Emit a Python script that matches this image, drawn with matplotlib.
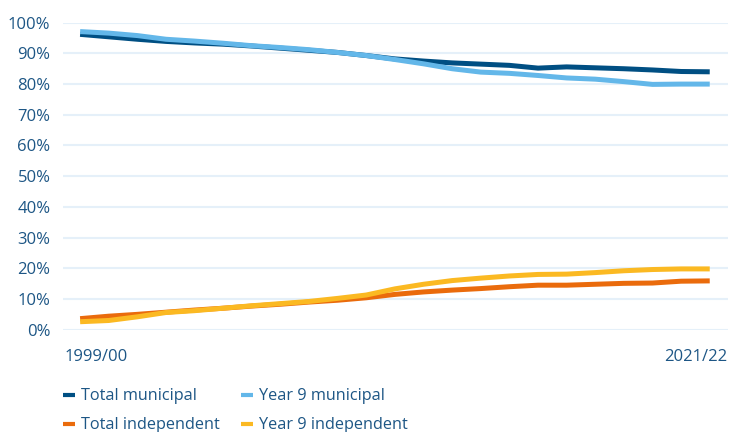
import matplotlib.pyplot as plt
from matplotlib.ticker import PercentFormatter

plt.rcParams['font.family'] = ['Open Sans', 'DejaVu Sans']

years = ['1999/00', '2000/01', '2001/02', '2002/03', '2003/04', '2004/05',
         '2005/06', '2006/07', '2007/08', '2008/09', '2009/10', '2010/11',
         '2011/12', '2012/13', '2013/14', '2014/15', '2015/16', '2016/17',
         '2017/18', '2018/19', '2019/20', '2020/21', '2021/22']

total_municipal = [96.2, 95.4, 94.6, 93.9, 93.4, 93.0, 92.4, 91.7, 91.0, 90.3,
                   89.3, 88.2, 87.5, 86.9, 86.5, 86.1, 85.2, 85.6, 85.3, 85.0,
                   84.6, 84.1, 84.0]
year9_municipal = [97.1, 96.6, 95.8, 94.6, 94.0, 93.3, 92.5, 91.9, 91.2, 90.3,
                   89.3, 88.0, 86.6, 85.0, 83.9, 83.5, 82.8, 82.0, 81.6, 80.8,
                   79.9, 80.0, 80.0]
total_independent = [3.6, 4.4, 5.0, 5.7, 6.4, 7.0, 7.7, 8.3, 9.0, 9.6,
                     10.4, 11.5, 12.3, 12.9, 13.4, 14.0, 14.5, 14.5, 14.8, 15.1,
                     15.2, 15.8, 15.9]
year9_independent = [2.6, 3.0, 4.2, 5.6, 6.2, 7.0, 7.8, 8.5, 9.2, 10.2,
                     11.3, 13.3, 14.8, 16.0, 16.8, 17.5, 18.0, 18.1, 18.6, 19.2,
                     19.6, 19.8, 19.8]

series = [
    ('Total municipal', total_municipal, '#004f83'),
    ('Year 9 municipal', year9_municipal, '#63b7e9'),
    ('Total independent', total_independent, '#ea6b0c'),
    ('Year 9 independent', year9_independent, '#fbb922'),
]

text_color = '#1d5685'

fig = plt.figure(figsize=(7.32, 4.32), dpi=100)
ax = fig.add_axes([0.086, 0.2368, 0.909, 0.7107])

x = list(range(len(years)))
lines = {}
for name, vals, color in series:
    lines[name], = ax.plot(x, vals, color=color, lw=3.6, label=name,
                           solid_capstyle='butt', solid_joinstyle='round', zorder=3)

ax.set_ylim(0, 100)
ax.set_yticks(range(0, 101, 10))
ax.yaxis.set_major_formatter(PercentFormatter(decimals=0))
ax.set_xlim(-0.6, len(years) - 1 + 0.65)
ax.set_xticks([])
ax.grid(axis='y', color='#e5f0f9', lw=1.5, zorder=0)
ax.tick_params(axis='y', length=0, pad=9, labelsize=12, labelcolor=text_color)
for s in ax.spines.values():
    s.set_visible(False)

# first and last year only, pinned to the plot edges
ax.text(0.003, -0.09, years[0], transform=ax.transAxes, ha='left', va='center',
        fontsize=12, color=text_color)
ax.text(0.999, -0.09, years[-1], transform=ax.transAxes, ha='right', va='center',
        fontsize=12, color=text_color)

# legend fills by column, so order the handles to read row by row
order = ['Total municipal', 'Total independent', 'Year 9 municipal', 'Year 9 independent']
leg = fig.legend([lines[n] for n in order], order, loc='upper left',
                 bbox_to_anchor=(0.086, 0.101), ncol=2,
                 frameon=False, fontsize=11.7, handlelength=0.75, handleheight=0.5,
                 handletextpad=0.35, columnspacing=1.3, labelspacing=0.8,
                 borderaxespad=0, borderpad=0)
for t in leg.get_texts():
    t.set_color(text_color)
for h in leg.get_lines():
    h.set_linewidth(3.0)

fig.savefig('out.png', dpi=100)
